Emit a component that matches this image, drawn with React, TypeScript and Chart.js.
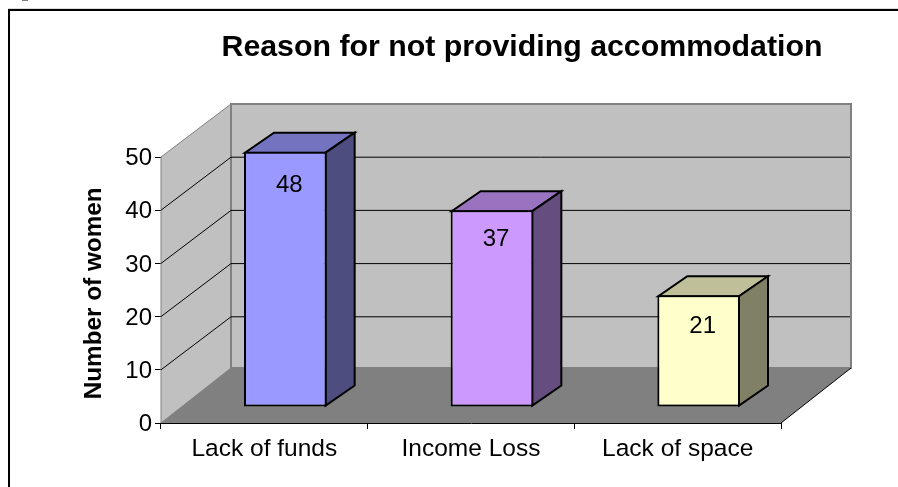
import React, { useEffect, useRef } from "react";
import { Chart, registerables } from "chart.js";

Chart.register(...registerables);

const categories = ["Lack of funds", "Income Loss", "Lack of space"];
const women = [48, 37, 21];
const frontColors = ["#9999ff", "#cc99ff", "#ffffcc"];
const topColors = ["#7373bf", "#9973bf", "#bfbf99"];
const sideColors = ["#4d4d80", "#664d80", "#808066"];
const chartTitle = "Reason for not providing accommodation";
const axisTitle = "Number of women";

const FONT = '"Liberation Sans", Arial, sans-serif';
const WALL_DX = 70;
const WALL_DY = -53;
const FLOOR_DY = -55;
const BAR_DX = 21;
const BAR_DY = -16;
const DEPTH_DX = 29;
const DEPTH_DY = -20;
const LABEL_DROP = [34, 29, 31];

function poly(ctx: CanvasRenderingContext2D, pts: number[][], fill: string | null, stroke: string | null, lw = 1) {
  ctx.beginPath();
  pts.forEach((p, i) => (i ? ctx.lineTo(p[0], p[1]) : ctx.moveTo(p[0], p[1])));
  ctx.closePath();
  if (fill) {
    ctx.fillStyle = fill;
    ctx.fill();
  }
  if (stroke) {
    ctx.strokeStyle = stroke;
    ctx.lineWidth = lw;
    ctx.stroke();
  }
}

const scene = {
  id: "scene",
  beforeDraw(chart: any) {
    const ctx: CanvasRenderingContext2D = chart.ctx;
    ctx.save();
    ctx.fillStyle = "#ffffff";
    ctx.fillRect(0, 0, chart.width, chart.height);
    ctx.fillStyle = "#dcdcdc";
    ctx.fillRect(8, 8, chart.width - 8, 1);
    ctx.fillStyle = "#808080";
    ctx.fillRect(22, 0, 6, 1);
    ctx.fillStyle = "#000000";
    ctx.fillRect(8, 9, chart.width - 8, 2);
    ctx.fillRect(8, 9, 2, chart.height - 9);
    ctx.restore();
  },
  beforeDatasetsDraw(chart: any) {
    const ctx: CanvasRenderingContext2D = chart.ctx;
    const { left, right } = chart.chartArea;
    const y = chart.scales.y;
    const y0 = y.getPixelForValue(0);
    const yMax = y.getPixelForValue(50);
    ctx.save();
    // side wall, back wall, floor
    poly(ctx, [[left, y0], [left + WALL_DX, y0 + FLOOR_DY], [left + WALL_DX, yMax + WALL_DY], [left, yMax]], "#c0c0c0", "#808080", 1);
    poly(ctx, [[left + WALL_DX, y0 + FLOOR_DY], [right + WALL_DX, y0 + FLOOR_DY], [right + WALL_DX, yMax + WALL_DY], [left + WALL_DX, yMax + WALL_DY]], "#c0c0c0", "#808080", 2);
    poly(ctx, [[left, y0], [right, y0], [right + WALL_DX, y0 + FLOOR_DY], [left + WALL_DX, y0 + FLOOR_DY]], "#808080", null);
    ctx.strokeStyle = "#000000";
    ctx.lineWidth = 1;
    ctx.beginPath();
    ctx.moveTo(right, y0);
    ctx.lineTo(right + WALL_DX, y0 + FLOOR_DY);
    ctx.stroke();
    // gridlines
    for (const t of y.ticks) {
      if (t.value === 0 || t.value === 50) continue;
      const py = y.getPixelForValue(t.value);
      ctx.strokeStyle = "#000000";
      ctx.lineWidth = 1;
      ctx.beginPath();
      ctx.moveTo(left, py);
      ctx.lineTo(left + WALL_DX, py + WALL_DY);
      ctx.lineTo(right + WALL_DX - 1, py + WALL_DY);
      ctx.stroke();
    }
    // bar depth faces
    const meta = chart.getDatasetMeta(0);
    meta.data.forEach((bar: any, i: number) => {
      const w = bar.width / 2;
      const x0 = bar.x - w + BAR_DX + 1;
      const x1 = bar.x + w + BAR_DX - 1;
      const top = bar.y + BAR_DY + 1;
      const base = bar.base + BAR_DY - 1;
      poly(ctx, [[x0, top], [x1, top], [x1 + DEPTH_DX, top + DEPTH_DY], [x0 + DEPTH_DX, top + DEPTH_DY]], topColors[i], "#000000", 2);
      poly(ctx, [[x1, top], [x1 + DEPTH_DX, top + DEPTH_DY], [x1 + DEPTH_DX, base + DEPTH_DY], [x1, base]], sideColors[i], "#000000", 2);
    });
    ctx.restore();
    ctx.save();
    ctx.translate(BAR_DX, BAR_DY);
  },
  afterDatasetsDraw(chart: any) {
    const ctx: CanvasRenderingContext2D = chart.ctx;
    ctx.restore();
    const meta = chart.getDatasetMeta(0);
    ctx.save();
    ctx.fillStyle = "#000000";
    ctx.font = `24px ${FONT}`;
    ctx.textAlign = "center";
    ctx.textBaseline = "middle";
    meta.data.forEach((bar: any, i: number) => {
      ctx.fillText(String(women[i]), bar.x + BAR_DX + 4, bar.y + BAR_DY + LABEL_DROP[i]);
    });
    ctx.font = `bold 30.3px ${FONT}`;
    ctx.fillText(chartTitle, 522, 48);
    ctx.restore();
  },
};

export default function App() {
  const ref = useRef<HTMLCanvasElement>(null);
  useEffect(() => {
    const chart = new Chart(ref.current!, {
      type: "bar",
      data: {
        labels: categories,
        datasets: [
          {
            label: axisTitle,
            data: women,
            backgroundColor: frontColors,
            borderColor: "#000000",
            borderWidth: 2,
            borderSkipped: false,
            barPercentage: 0.4,
            categoryPercentage: 1,
          },
        ],
      },
      options: {
        responsive: false,
        animation: false,
        devicePixelRatio: 1,
        layout: { padding: { left: 0, top: 157, right: 117, bottom: 0 } },
        plugins: { legend: { display: false }, title: { display: false }, tooltip: { enabled: false } },
        scales: {
          x: {
            afterFit(s: any) {
              s.height = 64;
              s.paddingLeft = 0;
              s.paddingRight = 0;
            },
            border: { display: true, color: "#000000", width: 1 },
            grid: { display: true, drawOnChartArea: false, drawTicks: true, tickLength: 6, color: "#000000" },
            ticks: { color: "#000000", font: { family: FONT, size: 24.5 }, padding: 6, maxRotation: 0 },
          },
          y: {
            min: 0,
            max: 50,
            afterFit(s: any) {
              s.width = 161;
              s.paddingTop = 0;
              s.paddingBottom = 0;
            },
            border: { display: true, color: "#000000", width: 1 },
            grid: { display: true, drawOnChartArea: false, drawTicks: true, tickLength: 6, color: "#000000" },
            ticks: { stepSize: 10, color: "#000000", font: { family: FONT, size: 24 }, padding: 3, labelOffset: 1.5 },
            title: {
              display: true,
              text: axisTitle + " ",
              color: "#000000",
              font: { family: FONT, size: 24.3, weight: "bold" },
              padding: { top: 80, bottom: 0 },
            },
          },
        },
      },
      plugins: [scene],
    } as any);
    return () => chart.destroy();
  }, []);
  return <canvas ref={ref} width={898} height={487} style={{ position: "fixed", left: 0, top: 0, display: "block" }} />;
}
